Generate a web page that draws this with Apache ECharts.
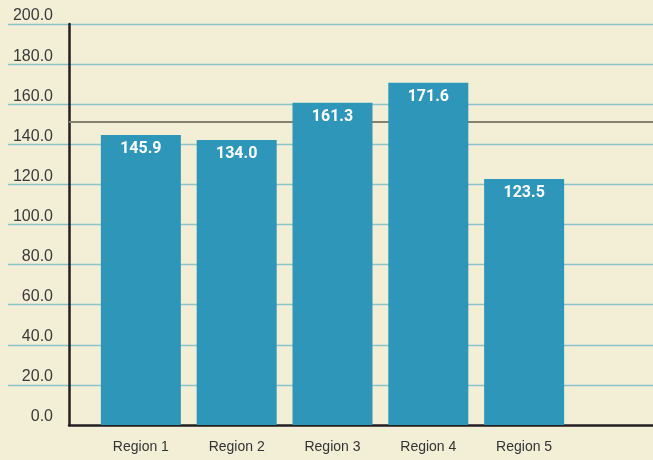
<!DOCTYPE html>
<html>
<head>
<meta charset="utf-8">
<script src="https://cdn.jsdelivr.net/npm/echarts@6/dist/echarts.min.js"></script>
<style>
  html, body { margin: 0; padding: 0; background: #f2efd6; }
  #chart { width: 653px; height: 460px; }
</style>
</head>
<body>
<div id="chart"></div>
<script>
const categories = ['Region 1', 'Region 2', 'Region 3', 'Region 4', 'Region 5']
// bar heights as drawn, and the figures printed on them
const barValues = [144.6, 142.1, 160.7, 170.7, 122.7]
const valueLabels = ['145.9', '134.0', '161.3', '171.6', '123.5']
const targetValue = 151.3
const yTicks = { min: 0, max: 200, interval: 20 }

window.addEventListener('DOMContentLoaded', () => {
    const chart = echarts.init(document.getElementById('chart'))
    const gridLine = { show: true, showMinLine: false, lineStyle: { color: '#8cc3ca', width: 1.3 } }

    chart.setOption({
        backgroundColor: '#f2efd6',
        animation: false,
        grid: [
            { left: 69, right: 0, top: 24, bottom: 35 },
            { left: 8, width: 61, top: 24, bottom: 35 }
        ],
        xAxis: [
            {
                type: 'value',
                gridIndex: 0,
                min: -0.75,
                max: 5.345,
                splitLine: { show: false },
                axisTick: { show: false },
                axisLine: { show: true, onZero: false, lineStyle: { color: '#231f20', width: 2.5 } },
                axisLabel: {
                    customValues: categories.map((c, i) => i),
                    formatter: v => categories[v],
                    color: '#333',
                    fontFamily: 'Liberation Sans',
                    fontSize: 14,
                    margin: 15
                }
            },
            { type: 'value', gridIndex: 1, show: false, min: 0, max: 1 }
        ],
        yAxis: [
            {
                type: 'value',
                gridIndex: 0,
                ...yTicks,
                axisLine: { show: true, onZero: false, lineStyle: { color: '#231f20', width: 2.5 } },
                axisTick: { show: false },
                splitLine: gridLine,
                axisLabel: {
                    formatter: v => v.toFixed(1),
                    color: '#3a3a3a',
                    fontFamily: 'Liberation Sans',
                    fontSize: 16,
                    margin: 16,
                    verticalAlign: 'bottom'
                }
            },
            {
                type: 'value',
                gridIndex: 1,
                ...yTicks,
                axisLine: { show: false },
                axisTick: { show: false },
                axisLabel: { show: false },
                splitLine: gridLine
            }
        ],
        series: [
            {
                type: 'line',
                xAxisIndex: 0,
                yAxisIndex: 0,
                data: [],
                markLine: {
                    silent: true,
                    symbol: 'none',
                    label: { show: false },
                    lineStyle: { color: '#85806f', width: 2, type: 'solid' },
                    data: [{ yAxis: targetValue }]
                }
            },
            {
                type: 'bar',
                xAxisIndex: 0,
                yAxisIndex: 0,
                zlevel: 1,
                barWidth: 80,
                data: barValues.map((v, i) => [i, v]),
                itemStyle: { color: '#2e96b9' },
                label: {
                    show: true,
                    position: 'insideTop',
                    distance: 6,
                    formatter: p => valueLabels[p.dataIndex],
                    color: '#ffffff',
                    fontFamily: 'Roboto',
                    fontWeight: 'bold',
                    fontSize: 16
                }
            }
        ]
    })
})
</script>
</body>
</html>
